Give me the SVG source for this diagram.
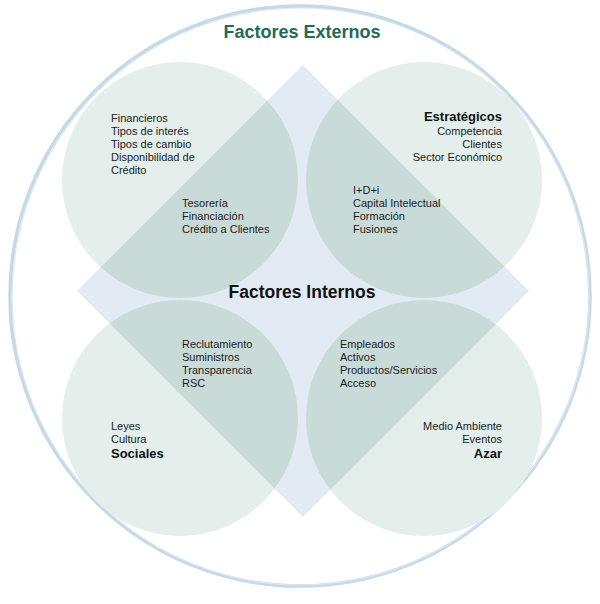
<svg xmlns="http://www.w3.org/2000/svg" width="600" height="604" viewBox="0 0 600 604">
  <defs>
    <clipPath id="diamondClip">
      <polygon points="303,65 529,291 303,517 77,291"/>
    </clipPath>
    <style>
      .circ { fill: #e4eeea; }
      .ovl { fill: #c9dbd8; }
      .dia { fill: #e2eaf3; }
      .t { font-family: "Liberation Sans", Arial, sans-serif; font-size: 11px; fill: #1c1c1c; }
      .b { font-family: "Liberation Sans", Arial, sans-serif; font-size: 13px; font-weight: bold; fill: #111; }
      .r { text-anchor: end; }
    </style>
  </defs>
  <rect width="600" height="604" fill="#ffffff"/>

  <g id="outer">
    <circle cx="300" cy="296" r="290" fill="none" stroke="#c6d9e6" stroke-width="3.5"/>
    <circle cx="300.5" cy="296.5" r="288.5" fill="none" stroke="#dbe7ef" stroke-width="1.2"/>
    <text x="302" y="38" text-anchor="middle" font-family="Liberation Sans, Arial, sans-serif" font-size="18" font-weight="bold" fill="#1f6b58">Factores Externos</text>
  </g>

  <g id="shapes">
    <polygon class="dia" points="303,65 529,291 303,517 77,291"/>
    <circle class="circ" cx="180" cy="180" r="118"/>
    <circle class="circ" cx="424" cy="180" r="118"/>
    <circle class="circ" cx="180" cy="418" r="118"/>
    <circle class="circ" cx="424" cy="418" r="118"/>
    <g clip-path="url(#diamondClip)">
      <circle class="ovl" cx="180" cy="180" r="118"/>
      <circle class="ovl" cx="424" cy="180" r="118"/>
      <circle class="ovl" cx="180" cy="418" r="118"/>
      <circle class="ovl" cx="424" cy="418" r="118"/>
    </g>
  </g>

  <g id="internos">
    <text x="302" y="298" text-anchor="middle" font-family="Liberation Sans, Arial, sans-serif" font-size="17.5" font-weight="bold" fill="#111">Factores Internos</text>
  </g>

  <g id="financieros">
    <text class="t" x="111" y="122">Financieros</text>
    <text class="t" x="111" y="135">Tipos de interés</text>
    <text class="t" x="111" y="148">Tipos de cambio</text>
    <text class="t" x="111" y="161">Disponibilidad de</text>
    <text class="t" x="111" y="174">Crédito</text>
    <text class="t" x="182" y="207">Tesorería</text>
    <text class="t" x="182" y="220">Financiación</text>
    <text class="t" x="182" y="233">Crédito a Clientes</text>
  </g>

  <g id="estrategicos">
    <text class="b r" x="502" y="121">Estratégicos</text>
    <text class="t r" x="502" y="135">Competencia</text>
    <text class="t r" x="502" y="148">Clientes</text>
    <text class="t r" x="502" y="161">Sector Económico</text>
    <text class="t" x="353" y="194">I+D+i</text>
    <text class="t" x="353" y="207">Capital Intelectual</text>
    <text class="t" x="353" y="220">Formación</text>
    <text class="t" x="353" y="233">Fusiones</text>
  </g>

  <g id="sociales">
    <text class="t" x="182" y="348">Reclutamiento</text>
    <text class="t" x="182" y="361">Suministros</text>
    <text class="t" x="182" y="374">Transparencia</text>
    <text class="t" x="182" y="387">RSC</text>
    <text class="t" x="111" y="430">Leyes</text>
    <text class="t" x="111" y="443">Cultura</text>
    <text class="b" x="111" y="458">Sociales</text>
  </g>

  <g id="azar">
    <text class="t" x="340" y="348">Empleados</text>
    <text class="t" x="340" y="361">Activos</text>
    <text class="t" x="340" y="374">Productos/Servicios</text>
    <text class="t" x="340" y="387">Acceso</text>
    <text class="t r" x="502" y="430">Medio Ambiente</text>
    <text class="t r" x="502" y="443">Eventos</text>
    <text class="b r" x="502" y="458">Azar</text>
  </g>
</svg>
